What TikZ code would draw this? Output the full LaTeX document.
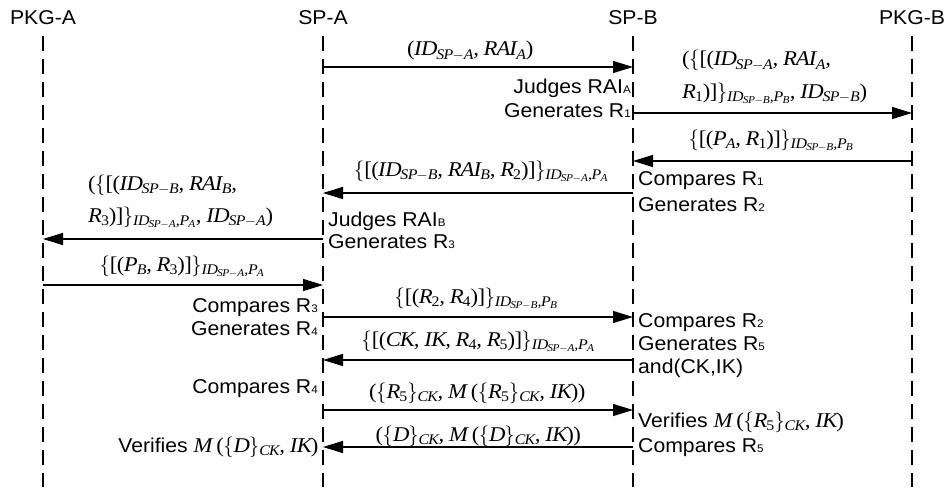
\documentclass[tikz,border=0pt]{standalone}
\usepackage{amsmath}
\usepackage[no-math]{fontspec}
\usetikzlibrary{arrows.meta}
\setmainfont[FakeStretch=1.06]{Liberation Sans}
\newfontfamily\serfam[NFSSFamily=libser,FakeStretch=1.08]{Liberation Serif}
% Times-like letters and digits in formulas
\DeclareSymbolFont{letters}{TU}{libser}{m}{it}
\DeclareSymbolFont{operators}{TU}{libser}{m}{n}
\mathcode`\,="612C
\thinmuskip=4.5mu
\newcommand\hdrfont{\fontsize{20}{24}\selectfont}
\newcommand\notefont{\fontsize{20}{24}\selectfont}
\newcommand\msgfont{\fontsize{21}{25}\selectfont}
\newcommand\lsub[1]{\raisebox{-0.8pt}{\fontsize{11}{11}\selectfont #1}}
\begin{document}
\begin{tikzpicture}[x=1pt,y=-1pt,
  lifeline/.style={line width=2.2pt,dash pattern=on 15pt off 8pt},
  msg/.style={line width=1.3pt,-{Triangle[length=20pt,width=12pt]}},
  actor/.style={font=\hdrfont,anchor=base,inner sep=0pt},
  mlabel/.style={font=\msgfont,anchor=base,inner sep=0pt},
  noteL/.style={font=\notefont,anchor=base west,inner sep=0pt},
  noteR/.style={font=\notefont,anchor=base east,inner sep=0pt}]
\useasboundingbox (0,0) rectangle (947,487);

% participants
\def\xPA{43}\def\xSA{323}\def\xSB{633}\def\xPB{912}
\node[actor] (pkga) at (\xPA,25) {PKG-A};
\node[actor] (spa)  at (\xSA,25) {SP-A};
\node[actor] (spb)  at (\xSB,25) {SP-B};
\node[actor] (pkgb) at (\xPB,25) {PKG-B};
\foreach \n/\x in {pkga/\xPA,spa/\xSA,spb/\xSB,pkgb/\xPB}{
  \coordinate (\n-top) at (\x,36);
  \coordinate (\n-bot) at (\x,487);
  \draw[lifeline] (\n-top) -- (\n-bot);
}

% message end points on the lifelines
\foreach \i/\y in {1/67,2/113,3/161,4/193,5/239,6/285,7/317,8/360,9/410,10/447}{
  \coordinate (pkga-\i) at (\xPA,\y);
  \coordinate (spa-\i)  at (\xSA,\y);
  \coordinate (spb-\i)  at (\xSB,\y);
  \coordinate (pkgb-\i) at (\xPB,\y);
}

% messages
\draw[msg] (spa-1)  -- (spb-1);
\draw[msg] (spb-2)  -- (pkgb-2);
\draw[msg] (pkgb-3) -- (spb-3);
\draw[msg] (spb-4)  -- (spa-4);
\draw[msg] (spa-5)  -- (pkga-5);
\draw[msg] (pkga-6) -- (spa-6);
\draw[msg] (spa-7)  -- (spb-7);
\draw[msg] (spb-8)  -- (spa-8);
\draw[msg] (spa-9)  -- (spb-9);
\draw[msg] (spb-10) -- (spa-10);

% message contents
\node[mlabel] (m1) at (470,56) {$(ID_{SP-A},RAI_A)$};
\node[mlabel,anchor=base west] (m2a) at (682,66) {$(\{[(ID_{SP-A},RAI_A,$};
\node[mlabel,anchor=base west] (m2b) at (682,98) {$R_1)]\}_{ID_{SP-B},P_B},ID_{SP-B})$};
\node[mlabel] (m3) at (771,145) {$\{[(P_A,R_1)]\}_{ID_{SP-B},P_B}$};
\node[mlabel] (m4) at (481,176) {$\{[(ID_{SP-B},RAI_B,R_2)]\}_{ID_{SP-A},P_A}$};
\node[mlabel,anchor=base west] (m5a) at (88,190) {$(\{[(ID_{SP-B},RAI_B,$};
\node[mlabel,anchor=base west] (m5b) at (88,222) {$R_3)]\}_{ID_{SP-A},P_A},ID_{SP-A})$};
\node[mlabel] (m6) at (182,271) {$\{[(P_B,R_3)]\}_{ID_{SP-A},P_A}$};
\node[mlabel] (m7) at (476,303) {$\{[(R_2,R_4)]\}_{ID_{SP-B},P_B}$};
\node[mlabel] (m8) at (478,346) {$\{[(CK,IK,R_4,R_5)]\}_{ID_{SP-A},P_A}$};
\node[mlabel] (m9) at (477,398) {$(\{R_5\}_{CK},M\,(\{R_5\}_{CK},IK))$};
\node[mlabel] (m10) at (478,441) {$(\{D\}_{CK},M\,(\{D\}_{CK},IK))$};

% local processing at SP-B
\node[noteR] (n1) at (631,93)  {Judges RAI\lsub{A}};
\node[noteR] (n2) at (631,117) {Generates R\lsub{1}};
\node[noteL] (n3) at (638,185) {Compares R\lsub{1}};
\node[noteL] (n4) at (638,211) {Generates R\lsub{2}};
\node[noteL] (n5) at (638,327) {Compares R\lsub{2}};
\node[noteL] (n6) at (638,350) {Generates R\lsub{5}};
\node[noteL] (n7) at (638,373) {and(CK,IK)};
\node[noteL] (n8) at (638,427) {Verifies {\msgfont$M\,(\{R_5\}_{CK},IK)$}};
\node[noteL] (n9) at (638,452) {Compares R\lsub{5}};

% local processing at SP-A
\node[noteL] (n10) at (328,226) {Judges RAI\lsub{B}};
\node[noteL] (n11) at (328,248) {Generates R\lsub{3}};
\node[noteR] (n12) at (318,312) {Compares R\lsub{3}};
\node[noteR] (n13) at (318,335) {Generates R\lsub{4}};
\node[noteR] (n14) at (318,393) {Compares R\lsub{4}};
\node[noteR] (n15) at (318,452) {Verifies {\msgfont$M\,(\{D\}_{CK},IK)$}};
\end{tikzpicture}
\end{document}
